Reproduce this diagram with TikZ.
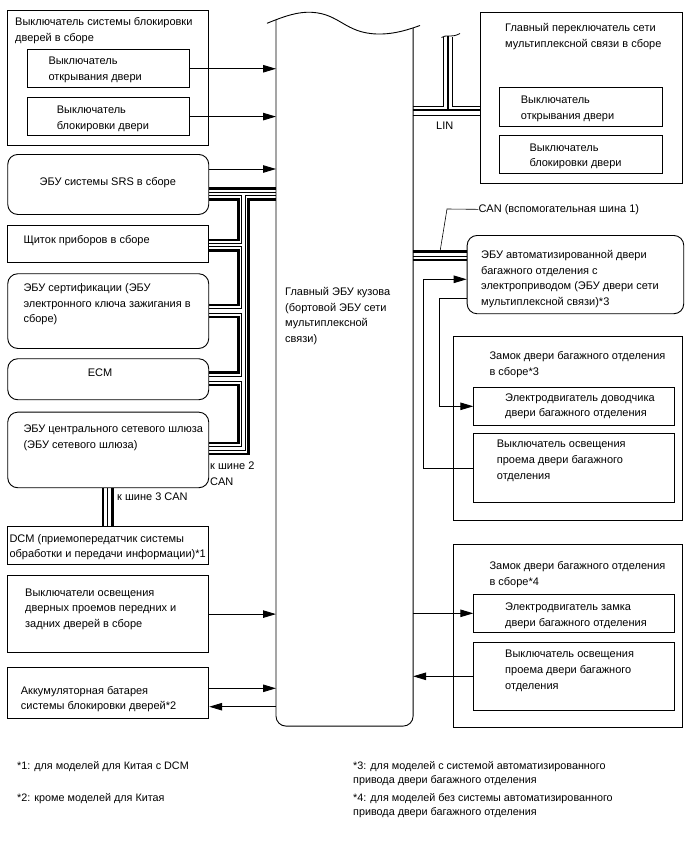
\documentclass[tikz,border=0pt]{standalone}
\usepackage{fontspec}
\setmainfont{Liberation Sans}
\usetikzlibrary{arrows.meta}

\begin{document}
\begin{tikzpicture}[x=1pt, y=-1pt,
        box/.style={draw, line width=0.9pt, anchor=north west, inner sep=0pt},
        rbox/.style={box, rounded corners=10pt},
        txt/.style={anchor=north west, inner sep=0pt, align=left, font=\fontsize{11}{15.7}\selectfont},
        note/.style={anchor=north west, inner sep=0pt, align=left, font=\fontsize{10.8}{14}\selectfont},
        sig/.style={line width=0.9pt, -{Triangle[length=13pt,width=7.5pt]}},
        busthick/.style={line width=2.6pt},
        busthin/.style={line width=0.8pt}]
    \useasboundingbox (0,0) rectangle (688,852);

    % Main body ECU
    \node[anchor=north west, inner sep=0pt, minimum width=136.7pt, minimum height=706.2pt] (ecu) at (276,19.5) {};
    \draw[line width=0.9pt] (267,23.3) .. controls (285,16) and (298,11.5) .. (312,12.3)
        .. controls (340,14) and (345,33) .. (377,34) .. controls (395,34.5) and (410,29) .. (420,25.5);
    \draw[line width=0.9pt, rounded corners=10pt] (ecu.north west) |- (ecu.south) -| ([yshift=-8.5pt]ecu.north east);
    \node[txt] (ecutxt) at (285,287) {Главный ЭБУ кузова\\(бортовой ЭБУ сети\\мультиплексной\\связи)};

    % Left column
    \node[box, minimum width=201pt, minimum height=135pt] (lockasm) at (7.3,10) {};
    \node[txt] (lockasmtxt) at (15,17.3) {Выключатель системы блокировки\\дверей в сборе};
    \node[box, minimum width=162.6pt, minimum height=38pt] (opensw) at (26.7,49.3) {};
    \node[txt] (openswtxt) at (48.3,56.7) {Выключатель\\открывания двери};
    \node[box, minimum width=162.6pt, minimum height=37.7pt] (locksw) at (26.7,97.3) {};
    \node[txt] (lockswtxt) at (56.7,106) {Выключатель\\блокировки двери};

    \node[rbox, minimum width=201pt, minimum height=60pt] (srs) at (7.3,154) {};
    \node[txt, anchor=north] (srstxt) at (107.8,177.3) {ЭБУ системы SRS в сборе};
    \node[box, minimum width=201pt, minimum height=36.7pt] (instr) at (7.3,225) {};
    \node[txt] (instrtxt) at (23.3,235) {Щиток приборов в сборе};
    \node[rbox, minimum width=201pt, minimum height=74.7pt] (cert) at (7.3,273.3) {};
    \node[txt] (certtxt) at (23.3,283.3) {ЭБУ сертификации (ЭБУ\\электронного ключа зажигания в\\сборе)};
    \node[rbox, minimum width=201pt, minimum height=41pt] (ecm) at (7.3,358.3) {};
    \node[txt, anchor=north] (ecmtxt) at (100,368.3) {ECM};
    \node[rbox, minimum width=201pt, minimum height=75.6pt] (gw) at (7.3,411.7) {};
    \node[txt] (gwtxt) at (23.3,425) {ЭБУ центрального сетевого шлюза\\(ЭБУ сетевого шлюза)};
    \node[txt] (can2txt) at (210,462) {к шине 2\\CAN};
    \node[box, minimum width=201pt, minimum height=38.3pt] (dcm) at (7.3,525.7) {};
    \node[txt] (dcmtxt) at (9.3,534) {DCM (приемопередатчик системы\\обработки и передачи информации)*1};
    \node[txt] (can3txt) at (117,493) {к шине 3 CAN};
    \node[box, minimum width=201pt, minimum height=77.3pt] (doorsw) at (7.3,575) {};
    \node[txt] (doorswtxt) at (25,588.3) {Выключатели освещения\\дверных проемов передних и\\задних дверей в сборе};
    \node[box, minimum width=201pt, minimum height=51.3pt] (batt) at (7.3,666.7) {};
    \node[txt] (batttxt) at (20.7,686) {Аккумуляторная батарея\\системы блокировки дверей*2};

    % Right column
    \node[box, minimum width=201.7pt, minimum height=171pt] (mainsw) at (480,11.7) {};
    \node[txt] (mainswtxt) at (505,23.3) {Главный переключатель сети\\мультиплексной связи в сборе};
    \node[box, minimum width=162.4pt, minimum height=38.4pt] (msopen) at (499.3,87.3) {};
    \node[txt] (msopentxt) at (520.7,96) {Выключатель\\открывания двери};
    \node[box, minimum width=162.4pt, minimum height=37.7pt] (mslock) at (499.3,135) {};
    \node[txt] (mslocktxt) at (529.3,143.3) {Выключатель\\блокировки двери};
    \node[txt] (lintxt) at (436,121.5) {LIN};

    \node[txt] (can1txt) at (478.3,204) {CAN (вспомогательная шина 1)};
    \node[rbox, minimum width=216.6pt, minimum height=78.3pt] (bdecu) at (466.7,235) {};
    \node[txt] (bdecutxt) at (481,250) {ЭБУ автоматизированной двери\\багажного отделения с\\электроприводом (ЭБУ двери сети\\мультиплексной связи)*3};

    \node[box, minimum width=229pt, minimum height=184pt] (lockthree) at (452.7,336) {};
    \node[txt] (lockthreetxt) at (489.3,351.7) {Замок двери багажного отделения\\в сборе*3};
    \node[box, minimum width=200.7pt, minimum height=38.3pt] (closemot) at (473.3,386.7) {};
    \node[txt] (closemottxt) at (505,393.3) {Электродвигатель доводчика\\двери багажного отделения};
    \node[box, minimum width=200.7pt, minimum height=68.4pt] (courtthree) at (473.3,433.3) {};
    \node[txt] (courtthreetxt) at (496.7,440) {Выключатель освещения\\проема двери багажного\\отделения};

    \node[box, minimum width=229pt, minimum height=182.7pt] (lockfour) at (452.7,544) {};
    \node[txt] (lockfourtxt) at (489.3,561.7) {Замок двери багажного отделения\\в сборе*4};
    \node[box, minimum width=200.7pt, minimum height=37.7pt] (lockmot) at (473.3,594) {};
    \node[txt] (lockmottxt) at (505,602.7) {Электродвигатель замка\\двери багажного отделения};
    \node[box, minimum width=200.7pt, minimum height=68.3pt] (courtfour) at (473.3,641.7) {};
    \node[txt] (courtfourtxt) at (505,650) {Выключатель освещения\\проема двери багажного\\отделения};

    % Signal lines
    \draw[sig] (opensw.east) -- (opensw.east -| ecu.west);
    \draw[sig] (locksw.east) -- (locksw.east -| ecu.west);
    \draw[sig] (srs.east |- 0,169) -- (ecu.west |- 0,169);
    \draw[sig] (doorsw.east) -- (doorsw.east -| ecu.west);
    \draw[sig] (batt.east |- 0,688.3) -- (ecu.west |- 0,688.3);
    \draw[sig] (ecu.west |- 0,706.7) -- (batt.east |- 0,706.7);
    \draw[sig] (ecu.east |- lockmot.west) -- (lockmot.west);
    \draw[sig] (courtfour.west) -- (courtfour.west -| ecu.east);
    \draw[sig] (courtthree.west) -| (423,279.3) -- (bdecu.west |- 0,279.3);
    \draw[sig] (bdecu.west |- 0,298.3) -- (439.3,298.3) |- (closemot.west);

    % CAN bus, left side
    \draw[busthick] (srs.east |- 0,188.5) -- (ecu.west |- 0,188.5);
    \draw[busthin] (srs.east |- 0,192.6) -- (ecu.west |- 0,192.6);
    \foreach \a/\b/\t/\u in {srs/instr/195.7/240, instr/cert/246.7/305, cert/ecm/313.5/372.7, ecm/gw/381.5/443} {
        \draw[busthin] (\a.east |- 0,\t) -| (241.7,\u+3.4) -- (\b.east |- 0,\u+3.4);
        \draw[busthick] (\a.east |- 0,\t+3.6) -| (238.4,\u) -- (\b.east |- 0,\u);
    }
    \draw[busthin] (ecu.west |- 0,195.7) -| (245.7,450.5) -- (gw.east |- 0,450.5);
    \draw[busthick] (ecu.west |- 0,199.3) -| (248.6,454) -- (gw.east |- 0,454);

    % CAN bus 3 to DCM
    \draw[busthick] (gw.south -| 102.8,0) -- (dcm.north -| 102.8,0);
    \draw[busthin] (gw.south -| 107.6,0) -- (dcm.north -| 107.6,0);
    \draw[busthick] (gw.south -| 112.4,0) -- (dcm.north -| 112.4,0);

    % LIN
    \draw[busthick] (ecu.east |- 0,110) -- (mainsw.west |- 0,110);
    \draw[busthin] (ecu.east |- 0,115.5) -- (mainsw.west |- 0,115.5);
    \draw[busthin] (ecu.east |- 0,106) -- (443.2,106) -- (443.2,37);
    \draw[busthick] (447.9,36) -- (447.9,110);
    \draw[busthin] (452.6,37) -- (452.6,106) -- (mainsw.west |- 0,106);
    \draw[line width=0.8pt] (441.5,37.5) .. controls (446,34) and (451,38.5) .. (460,33.5);

    % CAN sub bus 1
    \draw[busthick] (ecu.east |- 0,251.7) -- (bdecu.west |- 0,251.7);
    \draw[busthin] (ecu.east |- 0,255.9) -- (bdecu.west |- 0,255.9);
    \draw[busthick] (ecu.east |- 0,260) -- (bdecu.west |- 0,260);
    \coordinate (canpt) at (440,251.7);
    \draw[line width=0.6pt] (canpt) -- (447,209) -- (can1txt.west);

    % Notes
    \node[note] (note1) at (17,761) {*1: для моделей для Китая с DCM};
    \node[note] (note2) at (17,793) {*2: кроме моделей для Китая};
    \node[note] (note3) at (353,761) {*3: для моделей с системой автоматизированного\\привода двери багажного отделения};
    \node[note] (note4) at (353,793) {*4: для моделей без системы автоматизированного\\привода двери багажного отделения};
\end{tikzpicture}
\end{document}
